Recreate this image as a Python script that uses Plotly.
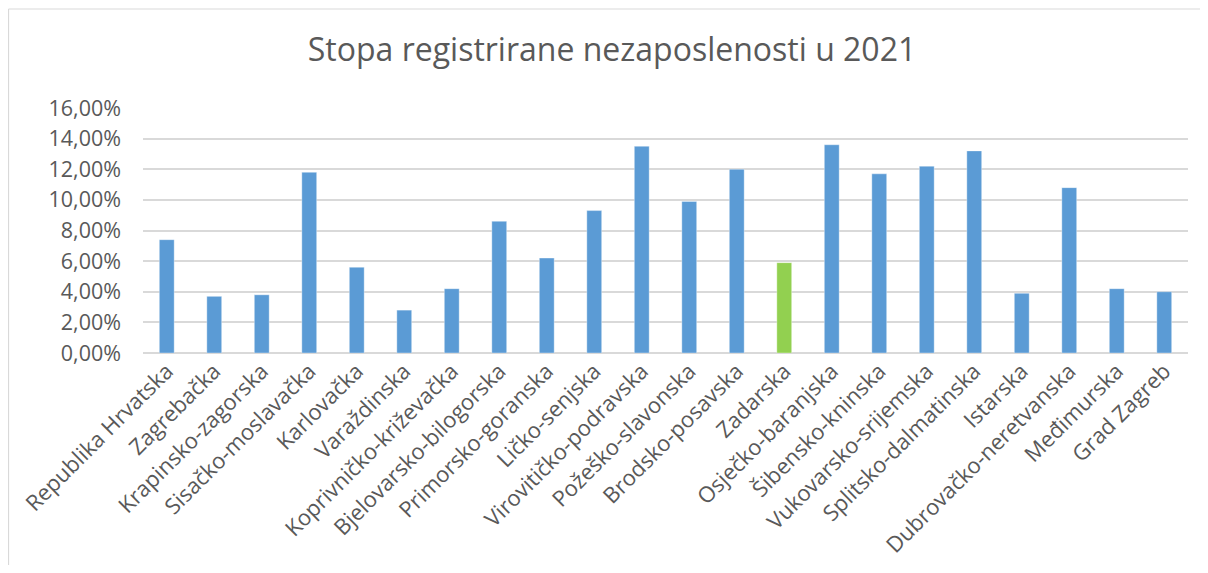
import plotly.graph_objects as go

categories = [
    "Republika Hrvatska", "Zagrebačka", "Krapinsko-zagorska", "Sisačko-moslavačka",
    "Karlovačka", "Varaždinska", "Koprivničko-križevačka", "Bjelovarsko-bilogorska",
    "Primorsko-goranska", "Ličko-senjska", "Virovitičko-podravska", "Požeško-slavonska",
    "Brodsko-posavska", "Zadarska", "Osječko-baranjska", "Šibensko-kninska",
    "Vukovarsko-srijemska", "Splitsko-dalmatinska", "Istarska", "Dubrovačko-neretvanska",
    "Međimurska", "Grad Zagreb",
]
values = [
    0.074, 0.037, 0.038, 0.118, 0.056, 0.028, 0.042, 0.086, 0.062, 0.093, 0.135,
    0.099, 0.120, 0.059, 0.136, 0.117, 0.122, 0.132, 0.039, 0.108, 0.042, 0.040,
]
highlight = "Zadarska"
tick_vals = [0, 0.02, 0.04, 0.06, 0.08, 0.10, 0.12, 0.14, 0.16]

BLUE = "#5B9BD5"
GREEN = "#92D050"
colors = [GREEN if c == highlight else BLUE for c in categories]

# page body has an 8px default margin; figure sized to compensate
OFF = 8
W, H = 1208 - OFF, 573 - 2 * OFF
ML, MT = 143 - OFF, 108 - OFF
pw, ph = 1045, 245
MR = W - ML - pw
MB = H - MT - ph

fig = go.Figure(go.Bar(
    x=categories, y=values,
    marker=dict(color=colors, line=dict(width=0.8, color="rgba(255,255,255,0.45)")),
    hoverinfo="x+y",
))

border = dict(color="#D9D9D9", width=1.2)
bx = (8 - 143) / pw + 0.0005
by = (353 - 9) / ph

fig.update_layout(
    width=W, height=H,
    margin=dict(l=ML, r=MR, t=MT, b=MB, autoexpand=False),
    paper_bgcolor="white", plot_bgcolor="white",
    separators=",.",
    bargap=0.687,
    showlegend=False,
    font=dict(family="Open Sans", color="#595959"),
    title=dict(
        text="Stopa registrirane nezaposlenosti u 2021",
        x=(612 - OFF) / W, xref="container", xanchor="center",
        y=1 - (50 - OFF) / H, yref="container", yanchor="middle",
        font=dict(family="Open Sans", size=32, color="#595959"),
    ),
    xaxis=dict(
        tickangle=-45, tickfont=dict(size=22, color="#595959"),
        showgrid=False, showline=False, ticks="", automargin=False,
    ),
    yaxis=dict(
        range=[0, 0.16], tickvals=tick_vals, tickformat=".2%",
        tickfont=dict(size=21.5, color="#595959"),
        showgrid=True, gridcolor="#D9D9D9", gridwidth=1.5,
        zeroline=True, zerolinecolor="#D9D9D9", zerolinewidth=1.5,
        showline=False, ticks="", ticklen=0, automargin=False,
        ticklabelstandoff=21,
    ),
    shapes=[
        dict(type="line", xref="paper", yref="paper", x0=bx, x1=bx,
             y0=-(MB + 30) / ph, y1=by, line=border, layer="below"),
        dict(type="line", xref="paper", yref="paper", x0=bx, x1=(W + 20 - ML) / pw,
             y0=by, y1=by, line=border, layer="below"),
    ],
)

fig.write_html("out.html")
